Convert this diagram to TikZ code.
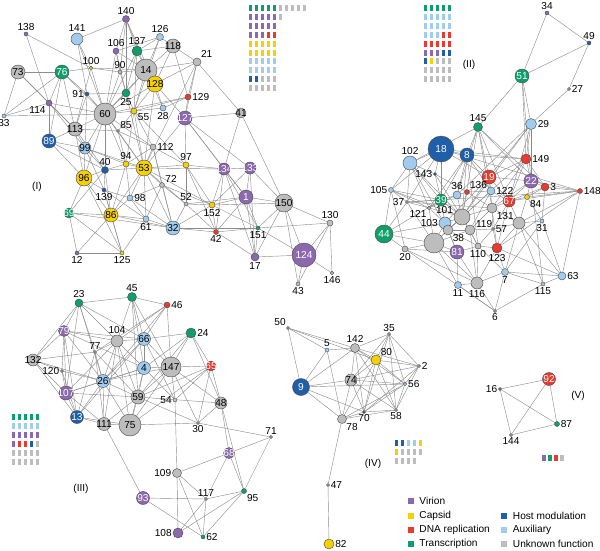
\documentclass[tikz,border=0pt]{standalone}
\usepackage{fontspec}
\setmainfont{Liberation Sans}
\usetikzlibrary{backgrounds}

\definecolor{cV}{HTML}{8C68AF}
\definecolor{cC}{HTML}{F6D100}
\definecolor{cD}{HTML}{E63B2E}
\definecolor{cT}{HTML}{0E9F6A}
\definecolor{cH}{HTML}{1F5EA8}
\definecolor{cA}{HTML}{A2CCEE}
\definecolor{cU}{HTML}{BDBDBD}

\begin{document}
\begin{tikzpicture}[x=0.25mm,y=-0.25mm,
    vtx/.style={circle,draw=black!70,line width=0.3pt,inner sep=0pt,minimum size=#1*0.5mm},
    vir/.style={vtx=#1,fill=cV}, cap/.style={vtx=#1,fill=cC},
    dna/.style={vtx=#1,fill=cD}, trs/.style={vtx=#1,fill=cT},
    hst/.style={vtx=#1,fill=cH}, aux/.style={vtx=#1,fill=cA},
    unk/.style={vtx=#1,fill=cU},
    lbl/.style={font=\fontsize{7.2}{8}\selectfont,inner sep=0.6pt},
    tA/.style={label={[lbl]above:#1}}, tB/.style={label={[lbl]below:#1}},
    tL/.style={label={[lbl]left:#1}}, tR/.style={label={[lbl]right:#1}},
    tW/.style={label={[lbl,text=white]center:#1}}, tK/.style={label={[lbl]center:#1}},
    link/.style={draw=black!45,line width=0.3pt},
    key/.style={minimum size=1.5mm,inner sep=0pt},
    keytxt/.style={font=\fontsize{7.2}{8}\selectfont,anchor=west,inner sep=0pt,xshift=1.35mm}]
    \useasboundingbox (0,0) rectangle (600,550);

    % cluster I
    \node[vir=3.5,tA=140] (n140) at (126,19) {};
    \node[vir=2,tA=138] (n138) at (26,34) {};
    \node[aux=6,tA=141] (n141) at (77,39) {};
    \node[aux=3.5,tA=126] (n126) at (160,37) {};
    \node[vir=3,tA=106] (n106) at (116,51) {};
    \node[trs=5,tA=137] (n137) at (137,51) {};
    \node[unk=7,tK=118] (n118) at (173,46) {};
    \node[unk=4,label={[lbl]above right:21}] (n21) at (197,62) {};
    \node[cap=1.8,tA=100] (n100) at (91,68) {};
    \node[unk=2,tA=90] (n90) at (120,72) {};
    \node[unk=11,tK=14] (n14) at (146,70) {};
    \node[unk=7,tK=73] (n73) at (18,72) {};
    \node[trs=7,tW=76] (n76) at (62,72) {};
    \node[cap=8,tK=128] (n128) at (155,84) {};
    \node[hst=2,tL=91] (n91) at (87,94) {};
    \node[trs=4,tB=25] (n25) at (126,93) {};
    \node[dna=3,tR=129] (n129) at (188,97) {};
    \node[vir=3,label={[lbl]below left:114}] (n114) at (49,103) {};
    \node[aux=2,tB=33] (n33) at (4,116) {};
    \node[unk=11,tK=60] (n60) at (105,114) {};
    \node[cap=3,label={[lbl]-30:55}] (n55) at (134,111) {};
    \node[aux=3,tB=28] (n28) at (163,108) {};
    \node[vir=7,tW=127] (n127) at (185,118) {};
    \node[unk=5,tK=41] (n41) at (241,113) {};
    \node[unk=1.5,label={[lbl]above right:85}] (n85) at (118,131) {};
    \node[unk=7,tK=113] (n113) at (75,129) {};
    \node[hst=7,tW=89] (n89) at (49,141) {};
    \node[aux=6,tK=99] (n99) at (85,148) {};
    \node[unk=3,tR=112] (n112) at (153,147) {};
    \node[cap=3,tA=94] (n94) at (126,164) {};
    \node[cap=3,tA=97] (n97) at (186,165) {};
    \node[hst=3.5,tA=40] (n40) at (105,170) {};
    \node[cap=8,tK=53] (n53) at (144,168) {};
    \node[cap=8,tK=96] (n96) at (84,178) {};
    \node[vir=6,tW=134] (n134) at (224,169) {};
    \node[vir=6,tW=133] (n133) at (250,168) {};
    \node[unk=2.5,label={[lbl]30:72}] (n72) at (162,185) {};
    \node[hst=2,tB=139] (n139) at (104,190) {};
    \node[aux=3,tR=98] (n98) at (130,198) {};
    \node[unk=2,tA=52] (n52) at (186,204) {};
    \node[vir=7,tW=1] (n1) at (246,197) {};
    \node[unk=9,tK=150] (n150) at (284,203) {};
    \node[trs=5,tW=69] (n69) at (69,213) {};
    \node[cap=7,tK=86] (n86) at (111,215) {};
    \node[cap=3,tB=152] (n152) at (212,205) {};
    \node[aux=3,tB=61] (n61) at (146,219) {};
    \node[aux=7,tK=32] (n32) at (173,228) {};
    \node[dna=2.5,tB=42] (n42) at (216,232) {};
    \node[trs=2,tB=151] (n151) at (258,228) {};
    \node[unk=3,tA=130] (n130) at (330,223) {};
    \node[vir=2,tB=12] (n12) at (77,253) {};
    \node[cap=2,tB=125] (n125) at (122,253) {};
    \node[vir=4,tB=17] (n17) at (255,257) {};
    \node[vir=12,tW=124] (n124) at (304,255) {};
    \node[unk=1.8,tB=146] (n146) at (332,273) {};
    \node[unk=2,tB=43] (n43) at (298,284) {};
    \node[lbl] (capI) at (37,187) {(I)};

    % cluster II
    \node[vir=2,tA=34] (n34) at (547,13) {};
    \node[hst=2,tA=49] (n49) at (589,43) {};
    \node[trs=7,tW=51] (n51) at (522,76) {};
    \node[unk=1.5,tR=27] (n27) at (569,89) {};
    \node[trs=4.5,tA=145] (n145) at (478,127) {};
    \node[aux=5.5,tR=29] (n29) at (531,124) {};
    \node[hst=13,tW=18] (n18) at (441,149) {};
    \node[aux=7,tA=102] (n102) at (410,163) {};
    \node[hst=7,tW=8] (n8) at (467,155) {};
    \node[dna=5,tR=149] (n149) at (526,159) {};
    \node[hst=1.5,tL=143] (n143) at (435,174) {};
    \node[dna=7,tW=19] (n19) at (489,177) {};
    \node[vir=7,tW=22] (n22) at (531,181) {};
    \node[dna=4,tR=3] (n3) at (545,187) {};
    \node[dna=2.5,tR=148] (n148) at (580,191) {};
    \node[aux=2.5,tL=105] (n105) at (391,190) {};
    \node[dna=2.5,label={[lbl]above right:136}] (n136) at (467,192) {};
    \node[aux=4,tR=122] (n122) at (491,191) {};
    \node[aux=4,tA=36] (n36) at (457,195) {};
    \node[trs=6,tW=39] (n39) at (441,200) {};
    \node[dna=6,tW=67] (n67) at (509,201) {};
    \node[cap=2.5,label={[lbl]below right:84}] (n84) at (527,197) {};
    \node[unk=1.5,tL=37] (n37) at (407,202) {};
    \node[unk=1.8,label={[lbl]below left:121}] (n121) at (429,208) {};
    \node[unk=8,label={[lbl]165:101}] (n101) at (462,217) {};
    \node[aux=6,tL=103] (n103) at (445,223) {};
    \node[unk=5,label={[lbl]below right:131}] (n131) at (492,208) {};
    \node[unk=6] (nU1) at (519,223) {};
    \node[unk=5,label={[lbl]20:119}] (n119) at (470,230) {};
    \node[unk=5,label={[lbl]below right:38}] (n38) at (448,230) {};
    \node[unk=10] (nU2) at (434,243) {};
    \node[unk=1.5,tR=57] (n57) at (493,229) {};
    \node[trs=9,tW=44] (n44) at (384,234) {};
    \node[unk=3,tB=20] (n20) at (405,249) {};
    \node[vir=7,tW=81] (n81) at (457,252) {};
    \node[unk=3,tB=110] (n110) at (478,246) {};
    \node[dna=5,tB=123] (n123) at (497,248) {};
    \node[aux=2,tB=31] (n31) at (542,221) {};
    \node[aux=3.5,tB=7] (n7) at (505,272) {};
    \node[aux=4,tR=63] (n63) at (562,276) {};
    \node[aux=3.5,tB=11] (n11) at (458,285) {};
    \node[unk=6,tB=116] (n116) at (477,283) {};
    \node[unk=2,tB=115] (n115) at (543,284) {};
    \node[unk=1.5,tB=6] (n6) at (495,311) {};
    \node[lbl] (capII) at (469,65) {(II)};

    % cluster III
    \node[trs=4,tA=23] (n23) at (79,303) {};
    \node[trs=4.5,tA=45] (n45) at (132,297) {};
    \node[dna=3,tR=46] (n46) at (167,305) {};
    \node[vir=5.5,tW=79] (n79) at (64,331) {};
    \node[unk=6,tA=104] (n104) at (117,341) {};
    \node[aux=6.5,tK=66] (n66) at (144,339) {};
    \node[trs=5,tR=24] (n24) at (191,333) {};
    \node[unk=1.5,tA=77] (n77) at (95,352) {};
    \node[unk=6,tK=132] (n132) at (33,360) {};
    \node[unk=1.5,tL=120] (n120) at (62,371) {};
    \node[aux=6.5,tK=4] (n4) at (144,368) {};
    \node[unk=10,tK=147] (n147) at (171,367) {};
    \node[dna=5,tW=65] (n65) at (211,366) {};
    \node[aux=6.5,tK=26] (n26) at (103,381) {};
    \node[vir=7,tW=107] (n107) at (66,393) {};
    \node[unk=7,tK=59] (n59) at (138,397) {};
    \node[aux=2,tL=54] (n54) at (175,400) {};
    \node[unk=6,tK=48] (n48) at (221,403) {};
    \node[hst=6.5,tW=13] (n13) at (77,417) {};
    \node[unk=6.5,tK=111] (n111) at (104,424) {};
    \node[unk=11,tK=75] (n75) at (130,425) {};
    \node[unk=1.5,tB=30] (n30) at (198,423) {};
    \node[unk=1.5,tA=71] (n71) at (271,437) {};
    \node[vir=5.5,tW=68] (n68) at (229,453) {};
    \node[unk=4.5,tL=109] (n109) at (177,473) {};
    \node[vir=6.5,tW=93] (n93) at (143,498) {};
    \node[unk=1.5,tA=117] (n117) at (206,499) {};
    \node[trs=2.5,label={[lbl]below right:95}] (n95) at (244,491) {};
    \node[vir=5,tL=108] (n108) at (178,533) {};
    \node[trs=2,tR=62] (n62) at (203,537) {};
    \node[lbl] (capIII) at (81,489) {(III)};

    % cluster IV
    \node[unk=1.5,label={[lbl]above left:50}] (n50) at (288,328) {};
    \node[unk=1.5,tA=35] (n35) at (389,334) {};
    \node[aux=2,tA=5] (n5) at (327,350) {};
    \node[unk=4.5,tA=142] (n142) at (355,348) {};
    \node[cap=5,label={[lbl]above right:80}] (n80) at (376,360) {};
    \node[unk=1.5,tR=2] (n2) at (419,366) {};
    \node[hst=8.5,tW=9] (n9) at (301,387) {};
    \node[unk=6,tK=74] (n74) at (351,380) {};
    \node[aux=1.8,tR=56] (n56) at (405,384) {};
    \node[hst=1.5,tB=70] (n70) at (364,412) {};
    \node[unk=1.5,tB=58] (n58) at (396,410) {};
    \node[unk=4.5,label={[lbl]below right:78}] (n78) at (342,419) {};
    \node[unk=1.5,tR=47] (n47) at (328,485) {};
    \node[cap=5,tR=82] (n82) at (329,544) {};
    \node[lbl] (capIV) at (373,464) {(IV)};

    % cluster V
    \node[dna=6.5,tW=92] (n92) at (549,379) {};
    \node[vir=1.5,tL=16] (n16) at (500,389) {};
    \node[trs=2.5,tR=87] (n87) at (557,424) {};
    \node[unk=1.5,tB=144] (n144) at (511,435) {};
    \node[lbl] (capV) at (578,396) {(V)};

    \begin{scope}[on background layer]
    \foreach \a/\b in {138/114, 138/100, 141/100, 141/91, 141/60, 141/140, 140/106, 140/137, 140/14, 140/25,
        140/90, 140/128, 73/76, 73/33, 73/114, 73/113, 76/100, 76/114, 76/33, 76/89, 76/113, 76/60, 76/91,
        33/114, 33/60, 114/89, 114/99, 114/60, 114/113, 126/137, 126/118, 126/106, 126/14, 126/55, 118/21,
        118/14, 118/137, 118/128, 118/129, 21/14, 21/129, 21/41, 21/127, 21/128, 21/53, 106/60, 106/90,
        106/25, 106/14, 137/14, 137/25, 137/55, 137/60, 100/90, 100/60, 100/113, 100/14, 90/60, 90/25,
        90/14, 14/60, 14/25, 14/128, 14/55, 14/28, 128/55, 128/28, 128/60, 128/53, 128/127, 91/60, 91/113,
        91/99, 91/25, 25/55, 25/60, 25/53, 129/127, 129/28, 129/55, 129/60, 60/55, 60/113, 60/99, 60/85,
        60/112, 60/53, 60/94, 60/40, 60/96, 55/28, 55/85, 55/53, 55/94, 55/112, 55/97, 127/41, 127/134,
        127/1, 127/97, 127/53, 127/133, 41/134, 41/150, 113/89, 113/99, 113/96, 113/40, 113/85, 89/99,
        89/96, 89/40, 99/96, 99/40, 99/94, 99/53, 99/139, 85/94, 85/53, 85/112, 112/53, 112/72, 112/97,
        112/32, 112/94, 94/53, 94/40, 94/98, 94/86, 97/53, 97/134, 97/152, 97/52, 97/42, 40/53, 40/139,
        40/96, 40/86, 40/69, 53/72, 53/98, 53/52, 53/61, 53/32, 53/86, 53/152, 53/134, 96/139, 96/69,
        96/86, 96/125, 134/133, 134/1, 134/152, 134/17, 134/42, 134/151, 133/1, 133/150, 133/17, 133/152,
        72/52, 72/32, 72/61, 72/98, 72/152, 139/98, 139/86, 139/61, 139/125, 98/32, 98/61, 98/86, 52/32,
        52/152, 52/1, 52/42, 1/150, 1/152, 1/151, 1/17, 1/42, 150/130, 150/124, 150/151, 150/17, 150/152,
        150/43, 69/86, 69/12, 69/32, 69/125, 86/61, 86/125, 86/32, 86/12, 152/42, 152/32, 152/151, 61/32,
        61/125, 32/42, 32/151, 42/17, 42/151, 151/17, 151/124, 151/130, 130/124, 130/146, 130/43, 12/125,
        17/124, 124/146, 124/43}
        \draw[link] (n\a) -- (n\b);
    \foreach \a/\b in {34/49, 34/51, 49/51, 49/27, 27/29, 51/145, 51/29, 51/149, 51/22, 145/8, 145/102,
        145/19, 145/101, 145/36, 145/67, 145/131, 145/22, 145/3, 29/149, 29/19, 29/101, 29/22, 29/67,
        29/36, 18/102, 18/8, 18/143, 18/39, 18/19, 18/149, 18/37, 18/105, 18/148, 8/149, 8/19, 8/36,
        8/101, 8/122, 8/39, 8/121, 8/110, 102/105, 102/143, 102/37, 102/39, 102/101, 102/121, 102/38,
        149/19, 149/22, 149/67, 149/3, 149/131, 149/38, 143/39, 143/101, 143/136, 19/136, 19/122, 19/67,
        19/101, 19/22, 19/131, 19/103, 22/3, 22/67, 22/84, 22/131, 22/148, 22/115, 3/148, 3/84, 3/67,
        3/31, 148/67, 148/84, 148/U1, 148/123, 148/63, 148/37, 105/37, 105/39, 105/44, 105/121, 105/101,
        105/20, 36/39, 36/136, 36/101, 36/121, 136/122, 136/101, 136/131, 122/67, 122/101, 122/119,
        39/37, 39/121, 39/101, 39/103, 39/44, 67/84, 67/131, 67/U1, 67/57, 67/123, 84/U1, 84/31, 37/121,
        37/44, 37/U2, 37/131, 121/103, 121/101, 121/U2, 101/103, 101/38, 101/119, 101/131, 101/U2,
        101/110, 103/U2, 103/38, 103/81, 103/44, 131/119, 131/57, 131/U1, 131/123, U1/57, U1/31, U1/63,
        U1/123, U1/7, U1/115, 119/38, 119/110, 119/57, 119/U2, 119/116, 38/U2, 38/81, 38/110, U2/44,
        U2/20, U2/81, U2/116, U2/11, 57/110, 57/123, 44/20, 20/81, 20/116, 81/110, 81/11, 81/116,
        110/123, 110/116, 110/7, 123/7, 123/116, 31/63, 31/7, 7/63, 7/116, 7/6, 7/115, 63/115, 63/123,
        11/116, 11/6, 116/6, 115/6, 6/20}
        \draw[link] (n\a) -- (n\b);
    \foreach \a/\b in {23/45, 23/79, 23/132, 23/104, 23/26, 23/107, 23/77, 23/66, 45/46, 45/104, 45/66,
        45/4, 45/147, 45/59, 46/104, 46/66, 46/147, 46/77, 46/26, 79/132, 79/107, 79/120, 79/104, 79/26,
        79/66, 79/4, 79/13, 104/66, 104/77, 104/26, 104/4, 104/107, 104/59, 104/111, 104/75, 66/24, 66/4,
        66/147, 66/26, 66/13, 24/147, 24/65, 24/4, 24/59, 24/48, 77/26, 77/132, 77/111, 77/59, 77/13,
        132/120, 132/107, 132/26, 132/13, 120/107, 120/13, 120/26, 4/147, 4/26, 4/59, 4/75, 4/107, 4/54,
        147/65, 147/48, 147/59, 147/75, 147/30, 147/54, 147/26, 65/48, 65/59, 65/54, 65/30, 65/75,
        26/107, 26/59, 26/111, 26/13, 26/75, 107/59, 107/13, 107/111, 59/75, 59/48, 59/111, 59/30,
        54/109, 54/66, 48/30, 48/68, 48/95, 13/111, 13/75, 111/75, 111/93, 75/30, 30/71, 71/68, 71/95,
        68/109, 68/117, 68/95, 109/117, 109/62, 109/108, 93/117, 93/62, 117/95, 117/62, 117/108, 95/62,
        95/108}
        \draw[link] (n\a) -- (n\b);
    \foreach \a/\b in {50/5, 50/142, 50/9, 50/80, 35/142, 35/80, 35/74, 35/2, 35/56, 35/58, 35/70, 5/142,
        5/9, 5/78, 142/80, 142/9, 142/74, 142/70, 142/58, 142/2, 142/56, 80/2, 80/74, 80/56, 80/58,
        80/70, 80/78, 2/56, 2/74, 2/70, 2/58, 9/74, 9/78, 9/70, 9/56, 74/56, 74/70, 74/78, 74/58, 56/70,
        56/58, 56/78, 70/58, 70/78, 58/78, 78/47, 47/82,
        16/92, 16/87, 16/144, 92/87, 92/144, 144/87}
        \draw[link] (n\a) -- (n\b);
    \end{scope}

    % category counts
    \foreach \row [count=\i from 0] in {{cT,cT,cT,cT,cT,cU,cU,cU,cU,cU},{cV,cV,cV,cV,cV,cU},
        {cV,cV,cV,cV,cV},{cV,cV,cV,cD,cD},{cC,cC,cC,cC,cC},{cC,cC,cC,cC,cC},{cA,cA,cA,cA,cA},
        {cA,cA,cA,cA,cA},{cH,cH,cU,cU,cU},{cU,cU,cU,cU,cU}}
        \foreach \c [count=\j from 0] in \row
            \fill[\c] (250.5+6*\j-1.75,8+8.9*\i-3) rectangle ++(3.5,6);
    \foreach \row [count=\i from 0] in {{cT,cT,cT,cT,cT},{cA,cA,cA,cA,cA},{cA,cA,cA,cA,cA},
        {cA,cA,cA,cD,cD},{cD,cD,cD,cD,cD},{cV,cV,cV,cH,cH},{cH,cC,cU,cU,cU},{cU,cU,cU,cU,cU},
        {cU,cU,cU,cU,cU}}
        \foreach \c [count=\j from 0] in \row
            \fill[\c] (425.5+6*\j-1.75,8+8.9*\i-3) rectangle ++(3.5,6);
    \foreach \row [count=\i from 0] in {{cT,cT,cT,cT,cT},{cA,cA,cA,cA,cA},{cV,cV,cV,cV,cV},
        {cV,cD,cD,cH,cU},{cU,cU,cU,cU,cU},{cU,cU,cU,cU,cU}}
        \foreach \c [count=\j from 0] in \row
            \fill[\c] (13.5+6*\j-1.75,417+9*\i-3) rectangle ++(3.5,6);
    \foreach \row [count=\i from 0] in {{cH,cH,cA,cA,cC},{cC,cU,cU,cU,cU},{cU,cU,cU,cU}}
        \foreach \c [count=\j from 0] in \row
            \fill[\c] (396.5+6*\j-1.75,442.5+9*\i-3) rectangle ++(3.5,6);
    \foreach \c [count=\j from 0] in {cV,cT,cD,cU}
        \fill[\c] (544+6*\j-1.75,457.5-3) rectangle ++(3.5,6);

    % legend
    \node[key,fill=cV] (kV) at (410.5,501) {};
    \node[keytxt] (tV) at (kV.east) {Virion};
    \node[key,fill=cC] (kC) at (410.5,515.5) {};
    \node[keytxt] (tC) at (kC.east) {Capsid};
    \node[key,fill=cD] (kD) at (410.5,530) {};
    \node[keytxt] (tD) at (kD.east) {DNA replication};
    \node[key,fill=cT] (kT) at (410.5,544) {};
    \node[keytxt] (tT) at (kT.east) {Transcription};
    \node[key,fill=cH] (kH) at (504,515.5) {};
    \node[keytxt] (tH) at (kH.east) {Host modulation};
    \node[key,fill=cA] (kA) at (504,530) {};
    \node[keytxt] (tA) at (kA.east) {Auxiliary};
    \node[key,fill=cU] (kU) at (504,544) {};
    \node[keytxt] (tU) at (kU.east) {Unknown function};
\end{tikzpicture}
\end{document}
